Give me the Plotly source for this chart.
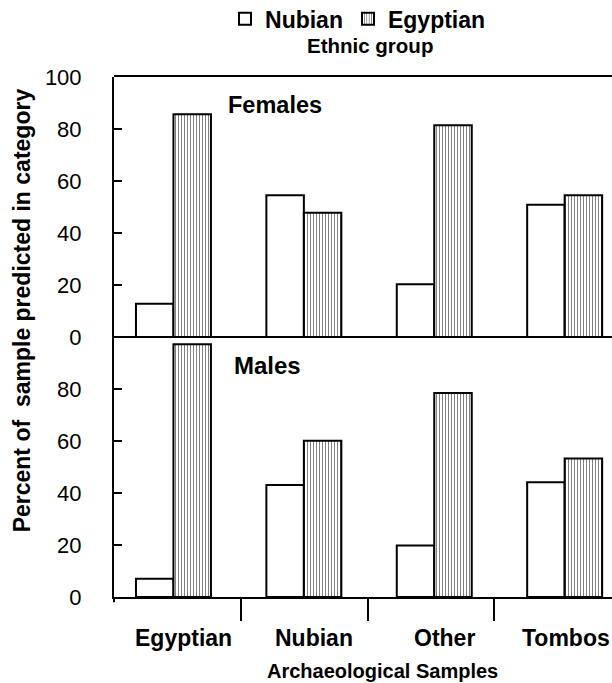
import plotly.graph_objects as go

categories = ["Egyptian", "Nubian", "Other", "Tombos"]
series_names = ["Nubian", "Egyptian"]
females_nubian = [12.8, 54.5, 20.3, 50.9]
females_egyptian = [85.7, 47.8, 81.4, 54.5]
males_nubian = [7.0, 43.1, 19.8, 44.1]
males_egyptian = [97.2, 60.1, 78.5, 53.3]
y_ticks = [0, 20, 40, 60, 80, 100]
panel_labels = ["Females", "Males"]

FONT = "Liberation Sans, Arial, sans-serif"
xs = list(range(len(categories)))
BW = 0.2875

fig = go.Figure()

def add_bars(vals_n, vals_e, yaxis, show):
    fig.add_trace(go.Bar(
        x=xs, y=vals_n, name=series_names[0], yaxis=yaxis, xaxis="x",
        width=BW, offset=-BW, showlegend=show, legendgroup="n",
        marker=dict(color="white", line=dict(color="black", width=2)),
    ))
    fig.add_trace(go.Bar(
        x=xs, y=vals_e, name=series_names[1], yaxis=yaxis, xaxis="x",
        width=BW, offset=0, showlegend=show, legendgroup="e",
        marker=dict(color="white", line=dict(color="black", width=2),
                    pattern=dict(shape="|", size=3, solidity=0.33,
                                 fgcolor="black", bgcolor="white", fillmode="overlay")),
    ))

add_bars(females_nubian, females_egyptian, "y", True)
add_bars(males_nubian, males_egyptian, "y2", False)

yax = dict(
    range=[0, 100], showgrid=False, zeroline=False, showline=True,
    linecolor="black", linewidth=2, ticks="inside", ticklen=8, tickwidth=2,
    tickcolor="black", tickfont=dict(family=FONT, size=22, color="black"),
    ticklabelstandoff=26, anchor="x", fixedrange=True,
)

fig.update_layout(
    width=612, height=683,
    margin=dict(l=114, r=0, t=77, b=86, autoexpand=False),
    paper_bgcolor="white", plot_bgcolor="white",
    barmode="overlay",
    showlegend=True,
    legend=dict(orientation="h", x=0.49, xanchor="center", y=1.112, yanchor="middle",
                font=dict(family=FONT, size=23, color="black", weight="bold"),
                bgcolor="rgba(0,0,0,0)", itemwidth=30, traceorder="normal"),
    xaxis=dict(
        range=[-0.456, 3.363], domain=[0, 1], anchor="y2",
        showgrid=False, zeroline=False, showline=True, linecolor="black", linewidth=2,
        ticks="outside", ticklen=22, tickwidth=2, tickcolor="black",
        tickvals=[0.52, 1.49, 2.46], showticklabels=False, fixedrange=True,
    ),
    yaxis=dict(domain=[0.5, 1], tickvals=y_ticks, **yax),
    yaxis2=dict(domain=[0, 0.5], tickvals=y_ticks[:-1], **yax),
)

# Frame lines: top border of upper panel and separator between panels
fig.add_shape(type="line", xref="paper", yref="paper", x0=0, x1=1, y0=1.002, y1=1.002,
              line=dict(color="black", width=2))
fig.add_shape(type="line", xref="paper", yref="paper", x0=0, x1=1, y0=0.5, y1=0.5,
              line=dict(color="black", width=2))
# Small tick at left end of x axis
fig.add_shape(type="line", xref="paper", yref="paper", x0=0, x1=0, y0=0, y1=-0.01,
              line=dict(color="black", width=2))

# Category labels
for i, c in enumerate(categories):
    last = i == len(categories) - 1
    fig.add_annotation(x=(1.0 if last else i + 0.08), xref=("paper" if last else "x"),
                       y=-0.079, yref="paper", text=c,
                       showarrow=False, xanchor=("right" if last else "center"),
                       yanchor="middle",
                       font=dict(family=FONT, size=23, color="black", weight="bold"))

# Panel labels
fig.add_annotation(x=0.224, xref="paper", y=0.946, yref="paper", text=panel_labels[0],
                   showarrow=False, xanchor="left", yanchor="middle",
                   font=dict(family=FONT, size=23.5, color="black", weight="bold"))
fig.add_annotation(x=0.237, xref="paper", y=0.446, yref="paper", text=panel_labels[1],
                   showarrow=False, xanchor="left", yanchor="middle",
                   font=dict(family=FONT, size=24, color="black", weight="bold"))

# Axis titles
fig.add_annotation(x=0.539, xref="paper", y=-0.1673, yref="paper", text="Archaeological Samples",
                   showarrow=False, xanchor="center", yanchor="bottom",
                   font=dict(family=FONT, size=20, color="black", weight="bold"))
fig.add_annotation(x=-0.183, xref="paper", y=0.551, yref="paper",
                   text="Percent of&nbsp; sample predicted in category", textangle=-90,
                   showarrow=False, xanchor="center", yanchor="middle",
                   font=dict(family=FONT, size=23, color="black", weight="bold"))
# Legend subtitle
fig.add_annotation(x=0.514, xref="paper", y=1.0615, yref="paper", text="Ethnic group",
                   showarrow=False, xanchor="center", yanchor="middle",
                   font=dict(family=FONT, size=20.5, color="black", weight="bold"))

fig.write_html("out.html")
